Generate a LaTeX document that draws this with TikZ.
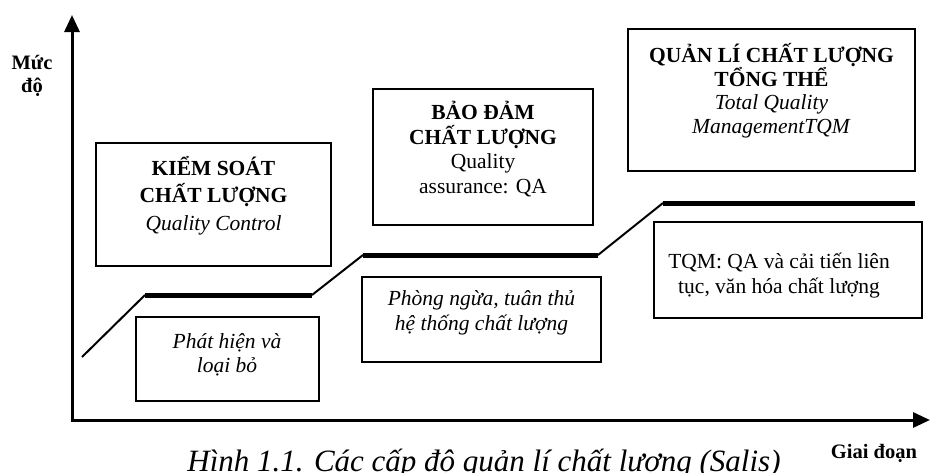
\documentclass[tikz,border=0pt]{standalone}
\usepackage{fontspec}
\setmainfont{Liberation Serif}
\usepackage{tikz}
\usetikzlibrary{positioning}
\usetikzlibrary{arrows.meta}

\tikzset{
	stagebox/.style={rectangle, draw=black, line width=1.5pt, fill=white},
	stagetext/.style={anchor=base, align=center, font=\fontsize{21.5}{24.5}\selectfont},
	axislabel/.style={anchor=base, align=center, font=\bfseries\fontsize{20.5}{23}\selectfont},
	axis/.style={-{Triangle[length=17pt, width=15pt]}, line width=3pt},
	riseline/.style={line width=2pt},
	levelline/.style={line width=5pt},
}

\begin{document}
\begin{tikzpicture}[x=1pt, y=-1pt]
		\useasboundingbox (0,0) rectangle (930,472);
		\clip (0,0) rectangle (930,472);

		% axes
		\coordinate (origin) at (72,420);
		\coordinate (yTip) at (72,15);
		\coordinate (xTip) at (930,420);
		\draw[axis] ([yshift=-1.5pt]origin) -- (yTip);
		\draw[axis] ([xshift=-1.5pt]origin) -- (xTip);
		\node[axislabel](levelLabel) at (32,92){Mức\\độ};
		\node[axislabel](stageLabel) at (874,458){Giai đoạn};

		% draw step line
		\coordinate (s0) at (82,357);
		\coordinate (s1) at (145,295);
		\coordinate (s2) at (312,295);
		\coordinate (s3) at (363,255);
		\coordinate (s4) at (598,255);
		\coordinate (s5) at (663,203);
		\coordinate (s6) at (915,203);
		\draw[riseline] (s0) -- (s1);
		\draw[riseline] (s2) -- (s3);
		\draw[riseline] (s4) -- (s5);
		\draw[levelline] (s1) -- (s2);
		\draw[levelline] (s3) -- (s4);
		\draw[levelline] (s5) -- (s6);

		% upper boxes
		\node[stagebox, minimum width=235pt, minimum height=123pt](qcBox) at (213.5,204.5){};
		\node[stagebox, minimum width=220pt, minimum height=136pt](qaBox) at (483,157){};
		\node[stagebox, minimum width=287pt, minimum height=142pt](tqmBox) at (771.5,100){};
		\node[stagetext, font=\fontsize{21.5}{27.5}\selectfont](qcText) at (213.5,230){\textbf{KIỂM SOÁT}\\\textbf{CHẤT LƯỢNG}\\\textit{Quality Control}};
		\node[stagetext](qaText) at (483,193){\textbf{BẢO ĐẢM}\\\textbf{CHẤT LƯỢNG}\\Quality\\assurance: QA};
		\node[stagetext, font=\fontsize{21.5}{23.5}\selectfont](tqmText) at (771.5,133){\textbf{QUẢN LÍ CHẤT LƯỢNG}\\\textbf{TỔNG THỂ}\\\textit{Total Quality}\\\textit{ManagementTQM}};

		% lower boxes
		\node[stagebox, minimum width=183pt, minimum height=84pt](qcNote) at (227.5,359){};
		\node[stagebox, minimum width=239pt, minimum height=85pt](qaNote) at (481.5,319.5){};
		\node[stagebox, minimum width=268pt, minimum height=96pt](tqmNote) at (788,270){};
		\node[stagetext, font=\itshape\fontsize{21.5}{24}\selectfont](qcNoteText) at (227,372){Phát hiện và\\loại bỏ};
		\node[stagetext, font=\itshape\fontsize{21.5}{25}\selectfont](qaNoteText) at (481.5,330){Phòng ngừa, tuân thủ\\hệ thống chất lượng};
		\node[stagetext, font=\fontsize{21.5}{25}\selectfont](tqmNoteText) at (779,293){TQM: QA và cải tiến liên\\tục, văn hóa chất lượng};

		% caption
		\node[anchor=base, font=\itshape\fontsize{31}{36}\selectfont](caption) at (484,471){Hình 1.1. Các cấp độ quản lí chất lượng (Salis)};
	\end{tikzpicture}
\end{document}
